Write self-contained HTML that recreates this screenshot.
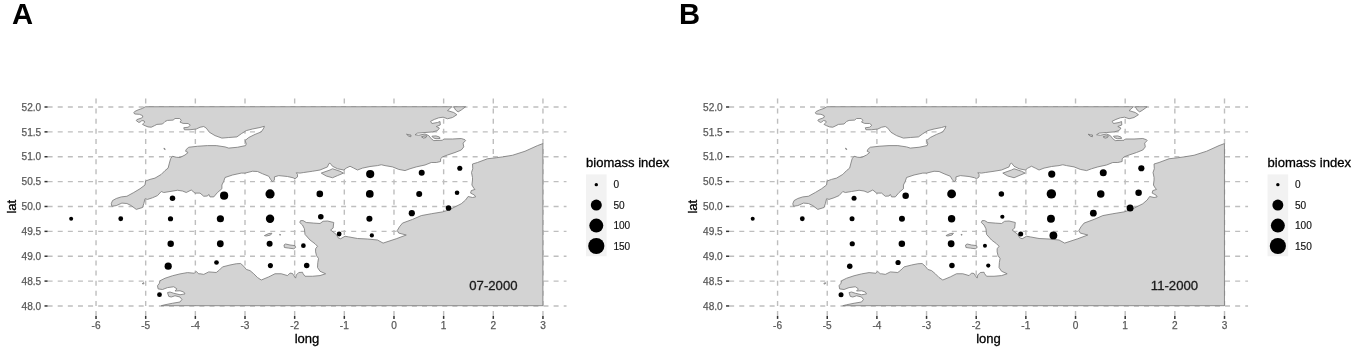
<!DOCTYPE html>
<html lang="en">
<head>
<meta charset="utf-8">
<title>Biomass index maps</title>
<style>
html,body{margin:0;padding:0;background:#fff;}
body{width:1358px;height:353px;overflow:hidden;}
svg{display:block;font-family:"Liberation Sans",Arial,Helvetica,sans-serif;will-change:transform;}
</style>
</head>
<body>
<svg width="1358" height="353" viewBox="0 0 1358 353">
<rect width="1358" height="353" fill="#fff"/>
<text x="11.9" y="24.15" font-size="29.2" font-weight="bold" fill="#000">A</text>
<text x="679.1" y="24.15" font-size="29.2" font-weight="bold" fill="#000">B</text>
<g transform="translate(0,0)">
<g stroke="#bebebe" stroke-width="1.4" stroke-dasharray="5 5.12" fill="none">
<line x1="47.6" y1="107.00" x2="566.5" y2="107.00"/>
<line x1="47.6" y1="131.87" x2="566.5" y2="131.87"/>
<line x1="47.6" y1="156.74" x2="566.5" y2="156.74"/>
<line x1="47.6" y1="181.61" x2="566.5" y2="181.61"/>
<line x1="47.6" y1="206.48" x2="566.5" y2="206.48"/>
<line x1="47.6" y1="231.35" x2="566.5" y2="231.35"/>
<line x1="47.6" y1="256.22" x2="566.5" y2="256.22"/>
<line x1="47.6" y1="281.09" x2="566.5" y2="281.09"/>
<line x1="47.6" y1="305.96" x2="566.5" y2="305.96"/>
<line x1="96.03" y1="316.0" x2="96.03" y2="97.0"/>
<line x1="145.69" y1="316.0" x2="145.69" y2="97.0"/>
<line x1="195.35" y1="316.0" x2="195.35" y2="97.0"/>
<line x1="245.00" y1="316.0" x2="245.00" y2="97.0"/>
<line x1="294.66" y1="316.0" x2="294.66" y2="97.0"/>
<line x1="344.32" y1="316.0" x2="344.32" y2="97.0"/>
<line x1="393.98" y1="316.0" x2="393.98" y2="97.0"/>
<line x1="443.64" y1="316.0" x2="443.64" y2="97.0"/>
<line x1="493.29" y1="316.0" x2="493.29" y2="97.0"/>
<line x1="542.95" y1="316.0" x2="542.95" y2="97.0"/>
</g>
<g fill="#d3d3d3" stroke="#7c7c7c" stroke-width="0.85" stroke-linejoin="round">
<polygon points="145.3,106.75 142.5,108.4 138.1,109.9 134.7,111.5 133.8,112.75 134.7,114 139.4,114.3 142.5,115.6 142.8,117.1 141.25,118.1 136.9,119.6 136.25,120.6 138.75,122.4 140,122.1 141.9,120.6 144.1,120.9 144.7,122.1 143.4,123.4 142.5,124.4 145,125.7 148,126.9 151.25,127.2 154.4,125.7 156.9,124.4 162.5,124 165,121.5 167.5,120.4 173.1,120.1 175,118.5 179.7,118.5 181.25,120.25 180,122.1 183.1,123.4 188.1,123.5 190.3,125.25 188.1,127.25 183.75,127.75 184.4,129.75 190,129.75 196.25,129 200,127.25 203.75,126.5 206.25,128.1 209.4,132.25 215,135.6 221.9,138.1 228.75,137.5 236.9,136.9 241.25,133.75 246.25,130.6 252.5,129 260,127.5 264.4,126.25 263.75,128.1 261.25,131.9 255,134.4 248.75,137.5 245,140.6 246.25,143.75 245.6,145.6 237.5,147.25 228.75,148.1 225,146.9 216.25,145.6 207.5,145.6 197.5,146.25 188.75,147.25 186.25,149.4 185.6,151.25 188.1,152.5 185,155 180,157.5 176.25,157.25 172.5,156.25 170.6,158.75 169.4,163.1 168.1,168.1 165,170.6 161.25,174.4 155,178.1 150,179.4 145.6,181 145,185 140,188.75 133.75,192.5 126.9,196.25 121.25,196.9 116.25,198.5 112.5,200.6 111.25,203.75 111.9,206.25 116.25,205.6 121.9,203.1 126.9,203.5 131.25,205.6 136.25,209.4 142.5,207.5 143.75,203.75 145,198.75 147.5,199.4 152.5,197.75 157.5,195.6 161.25,191.5 163.75,192.5 170,191.5 177.5,190.25 182.5,191 186.25,192.5 191.25,190 195,193.1 200,193.1 203.75,196.25 207.5,196 208.75,194.4 210,196.9 213.75,196.9 217.5,192.5 221.9,188.75 221.9,185 223.75,181.25 225,177.5 232.5,175 241.25,173.1 245,173.1 252.5,171.25 257.5,171.5 262.5,173.75 268.75,176.25 270.6,179.4 272.5,181.9 274.4,180 274.4,176.9 278.75,175.6 287.5,176.5 293.1,177.75 295,178.75 297.5,176.9 297.5,174.4 296.25,172.75 300,173.1 303.75,172.5 312.5,171.25 320,170 327.5,166.9 328.75,163.75 330,163.1 332.5,166.25 337.5,168.75 343.75,170 346.25,168.1 350,166.25 353.75,168.1 357.5,170 362.5,168.1 370,166.5 377.5,165.6 381.25,164.75 385,165.6 392.5,166.9 398.75,169.4 405,170.6 410,168.75 416.25,166.9 425,165 431.25,162.5 436.25,162.5 440.6,161.5 440.6,158.75 442.5,156.9 447.5,155 455,152.5 461.25,150 463.75,146.9 463.1,143.1 465.6,140.6 465,139.75 461.25,138.5 452.5,139 443.75,139 442.5,140.25 433.75,140.6 431.25,138.75 428.75,135.6 425,134 418.75,135.25 415,134.75 417.5,133.1 425,132.5 432.5,131.9 437.5,130.6 439.4,128.1 436.25,126.5 440.25,125 440,121.5 437.5,122.5 431.9,123.5 430.6,121.25 434.4,119.4 438.75,117.8 443.1,117.2 447.5,118.75 452.5,117.5 456.9,114.7 453.75,112.5 447.5,110.6 451.9,106.75"/>
<polygon points="453.75,106.75 455.6,110 458.1,111.9 461.25,110 465.6,106.75"/>
<polygon points="542.9,143.6 537.5,145.6 525,151.25 512.5,155.25 502.5,156.9 496.25,157.75 487.5,158.75 477.5,162.5 472.5,164 472.75,168.75 471.5,172.5 472.5,177.5 472.5,180 471.9,185 473.75,188.1 475,189.4 471.25,190.6 470.6,193.1 474.4,195 475.6,196.9 472.5,197.5 468.1,196.5 465.6,200 461.25,203.75 455,206.9 448.75,210 442.5,211.9 431.25,213.75 421.25,215.6 412.5,219.4 402.5,223.1 399.4,226.9 397.25,230.6 398.75,233.1 406.25,235 396.25,238.75 383.1,243.1 377.5,240 367.5,239 357.5,238.5 348.75,236.9 345,236.25 340.6,238.75 338.1,237.75 336.25,234.4 330.6,230 333.1,228.1 333.75,222.5 327.5,221 323.1,221.25 320,223.5 313.75,223.1 306.25,222.5 303.1,220.6 300.6,220.6 299.75,222.5 302.5,225 304.4,228.75 305,234.4 310,240 315,243.75 317.5,246.25 315.6,248.75 315.6,251.9 316.5,255.6 318.5,258.5 317.8,262.5 317.5,267.5 320,271.25 325.6,273.75 320,275.6 312.5,276.25 305,276.25 303.1,273.75 302.5,272.25 298.75,272.5 296.25,275 295.6,278.1 293.75,275.6 292.5,273.5 290,273.1 287.5,275.6 281.25,273.75 275,273.75 268.75,276.9 261.25,280 257.5,277.5 253.75,273.75 250,270.6 246.25,269.4 243.75,266.25 240.6,263.5 236.25,263.75 230,265 222.5,266.9 219.4,270 216.25,272.5 208.75,271.9 203.75,274.4 200,273.75 198.75,273.9 196.25,271.4 194.4,273.25 187.5,272.6 180,273.9 172.5,275.75 165,278.25 160,280.75 159.4,283.25 157.5,285.75 158.1,288.9 162.5,289.5 167.5,287.6 173.75,286.75 176.9,288.9 175,291 180,290.75 183.75,292 185,293.9 180,294.75 173.75,293.25 170,292 167.5,292.6 168.75,296.4 171.25,297 175,295.75 180,297 181.9,299.5 180,302 172.5,303.25 165,304.75 161.25,305.7 542.9,305.7"/>
<polygon points="321.25,173.1 330,170 332.5,168.75 340,171.25 343.5,173.1 337.5,175.6 332.5,177.75 326.25,176"/>
<polygon points="431.9,136.2 436,135.9 439.5,137 440,138.5 436,138.7 433.5,138"/>
<polygon points="421.5,136.8 424,136 426.8,135.8 426,137.5 423.5,138.2"/>
<polygon points="406.5,134.2 409,134.8 411,135 410.8,136.8 408.5,136"/>
<polygon points="163.9,148.2 164.9,148.6 165.2,149.6 164.3,149.3"/>
<polygon points="264.4,235.6 268.75,233.5 271.9,233.25 270.6,235 266.25,236"/>
<polygon points="279.6,234.4 280.5,234.5 280.4,235.2 279.7,235.1"/>
<polygon points="284,245 285.6,244 290,245 295,245.6 295.6,247.5 293.75,248.75 288.75,248.1 284.4,247.5"/>
<polygon points="142.2,283.6 143.8,282.6 144,283.6 143,284"/>
</g>
<g fill="#000">
<circle cx="71.15" cy="218.75" r="2.0"/>
<circle cx="120.75" cy="218.75" r="2.4"/>
<circle cx="170.5" cy="218.75" r="2.6"/>
<circle cx="220.4" cy="218.75" r="3.6"/>
<circle cx="270.05" cy="218.75" r="4.2"/>
<circle cx="320.8" cy="216.75" r="2.8"/>
<circle cx="369.4" cy="218.75" r="3.05"/>
<circle cx="172.5" cy="198.25" r="2.75"/>
<circle cx="224.1" cy="195.7" r="4.1"/>
<circle cx="270.05" cy="193.9" r="4.6"/>
<circle cx="319.8" cy="193.9" r="3.3"/>
<circle cx="369.8" cy="193.9" r="3.85"/>
<circle cx="419.2" cy="193.9" r="3.0"/>
<circle cx="457.05" cy="192.8" r="2.3"/>
<circle cx="370.2" cy="174.05" r="4.1"/>
<circle cx="421.7" cy="172.7" r="3.0"/>
<circle cx="459.8" cy="168.25" r="2.55"/>
<circle cx="448.55" cy="207.95" r="2.8"/>
<circle cx="411.8" cy="213.2" r="3.1"/>
<circle cx="339.15" cy="234" r="2.4"/>
<circle cx="371.85" cy="235.4" r="2.1"/>
<circle cx="170.7" cy="243.75" r="3.2"/>
<circle cx="220.3" cy="243.75" r="3.4"/>
<circle cx="269.6" cy="243.75" r="3.0"/>
<circle cx="303.4" cy="245.7" r="2.35"/>
<circle cx="168.2" cy="266.2" r="3.6"/>
<circle cx="216.5" cy="262.5" r="2.35"/>
<circle cx="270.4" cy="265.6" r="2.55"/>
<circle cx="306.7" cy="265.55" r="2.75"/>
<circle cx="159.5" cy="294.7" r="2.4"/>
</g>
<text x="469.3" y="290.3" font-size="13.15" fill="#1a1a1a" stroke="#1a1a1a" stroke-width="0.3">07-2000</text>
<g stroke="#333" stroke-width="1.5">
<line x1="44.5" y1="107.00" x2="47.6" y2="107.00"/>
<line x1="44.5" y1="131.87" x2="47.6" y2="131.87"/>
<line x1="44.5" y1="156.74" x2="47.6" y2="156.74"/>
<line x1="44.5" y1="181.61" x2="47.6" y2="181.61"/>
<line x1="44.5" y1="206.48" x2="47.6" y2="206.48"/>
<line x1="44.5" y1="231.35" x2="47.6" y2="231.35"/>
<line x1="44.5" y1="256.22" x2="47.6" y2="256.22"/>
<line x1="44.5" y1="281.09" x2="47.6" y2="281.09"/>
<line x1="44.5" y1="305.96" x2="47.6" y2="305.96"/>
<line x1="96.03" y1="316.0" x2="96.03" y2="318.9"/>
<line x1="145.69" y1="316.0" x2="145.69" y2="318.9"/>
<line x1="195.35" y1="316.0" x2="195.35" y2="318.9"/>
<line x1="245.00" y1="316.0" x2="245.00" y2="318.9"/>
<line x1="294.66" y1="316.0" x2="294.66" y2="318.9"/>
<line x1="344.32" y1="316.0" x2="344.32" y2="318.9"/>
<line x1="393.98" y1="316.0" x2="393.98" y2="318.9"/>
<line x1="443.64" y1="316.0" x2="443.64" y2="318.9"/>
<line x1="493.29" y1="316.0" x2="493.29" y2="318.9"/>
<line x1="542.95" y1="316.0" x2="542.95" y2="318.9"/>
</g>
<g font-size="10.1" fill="#595959" stroke="#595959" stroke-width="0.25">
<text x="41.2" y="110.70" text-anchor="end">52.0</text>
<text x="41.2" y="135.57" text-anchor="end">51.5</text>
<text x="41.2" y="160.44" text-anchor="end">51.0</text>
<text x="41.2" y="185.31" text-anchor="end">50.5</text>
<text x="41.2" y="210.18" text-anchor="end">50.0</text>
<text x="41.2" y="235.05" text-anchor="end">49.5</text>
<text x="41.2" y="259.92" text-anchor="end">49.0</text>
<text x="41.2" y="284.79" text-anchor="end">48.5</text>
<text x="41.2" y="309.66" text-anchor="end">48.0</text>
<text x="96.03" y="329.1" text-anchor="middle">-6</text>
<text x="145.69" y="329.1" text-anchor="middle">-5</text>
<text x="195.35" y="329.1" text-anchor="middle">-4</text>
<text x="245.00" y="329.1" text-anchor="middle">-3</text>
<text x="294.66" y="329.1" text-anchor="middle">-2</text>
<text x="344.32" y="329.1" text-anchor="middle">-1</text>
<text x="393.98" y="329.1" text-anchor="middle">0</text>
<text x="443.64" y="329.1" text-anchor="middle">1</text>
<text x="493.29" y="329.1" text-anchor="middle">2</text>
<text x="542.95" y="329.1" text-anchor="middle">3</text>
</g>
<text x="307" y="343.2" font-size="13.05" text-anchor="middle" fill="#000" stroke="#000" stroke-width="0.3">long</text>
<text transform="translate(15.8,206.7) rotate(-90)" font-size="13.05" text-anchor="middle" fill="#000" stroke="#000" stroke-width="0.3">lat</text>
<text x="586" y="167" font-size="13.05" fill="#000" stroke="#000" stroke-width="0.3">biomass index</text>
<rect x="586" y="174.4" width="20.6" height="81.85" fill="#f2f2f2"/>
<circle cx="596.3" cy="184.65" r="1.7" fill="#000"/>
<text x="613.4" y="188.25" font-size="10.1" fill="#111" stroke="#111" stroke-width="0.15">0</text>
<circle cx="596.3" cy="205.1" r="5.5" fill="#000"/>
<text x="613.4" y="208.70" font-size="10.1" fill="#111" stroke="#111" stroke-width="0.15">50</text>
<circle cx="596.3" cy="225.6" r="7.0" fill="#000"/>
<text x="613.4" y="229.20" font-size="10.1" fill="#111" stroke="#111" stroke-width="0.15">100</text>
<circle cx="596.3" cy="246.0" r="8.1" fill="#000"/>
<text x="613.4" y="249.60" font-size="10.1" fill="#111" stroke="#111" stroke-width="0.15">150</text>
</g>
<g transform="translate(681.55,0)">
<g stroke="#bebebe" stroke-width="1.4" stroke-dasharray="5 5.12" fill="none">
<line x1="47.6" y1="107.00" x2="566.5" y2="107.00"/>
<line x1="47.6" y1="131.87" x2="566.5" y2="131.87"/>
<line x1="47.6" y1="156.74" x2="566.5" y2="156.74"/>
<line x1="47.6" y1="181.61" x2="566.5" y2="181.61"/>
<line x1="47.6" y1="206.48" x2="566.5" y2="206.48"/>
<line x1="47.6" y1="231.35" x2="566.5" y2="231.35"/>
<line x1="47.6" y1="256.22" x2="566.5" y2="256.22"/>
<line x1="47.6" y1="281.09" x2="566.5" y2="281.09"/>
<line x1="47.6" y1="305.96" x2="566.5" y2="305.96"/>
<line x1="96.03" y1="316.0" x2="96.03" y2="97.0"/>
<line x1="145.69" y1="316.0" x2="145.69" y2="97.0"/>
<line x1="195.35" y1="316.0" x2="195.35" y2="97.0"/>
<line x1="245.00" y1="316.0" x2="245.00" y2="97.0"/>
<line x1="294.66" y1="316.0" x2="294.66" y2="97.0"/>
<line x1="344.32" y1="316.0" x2="344.32" y2="97.0"/>
<line x1="393.98" y1="316.0" x2="393.98" y2="97.0"/>
<line x1="443.64" y1="316.0" x2="443.64" y2="97.0"/>
<line x1="493.29" y1="316.0" x2="493.29" y2="97.0"/>
<line x1="542.95" y1="316.0" x2="542.95" y2="97.0"/>
</g>
<g fill="#d3d3d3" stroke="#7c7c7c" stroke-width="0.85" stroke-linejoin="round">
<polygon points="145.3,106.75 142.5,108.4 138.1,109.9 134.7,111.5 133.8,112.75 134.7,114 139.4,114.3 142.5,115.6 142.8,117.1 141.25,118.1 136.9,119.6 136.25,120.6 138.75,122.4 140,122.1 141.9,120.6 144.1,120.9 144.7,122.1 143.4,123.4 142.5,124.4 145,125.7 148,126.9 151.25,127.2 154.4,125.7 156.9,124.4 162.5,124 165,121.5 167.5,120.4 173.1,120.1 175,118.5 179.7,118.5 181.25,120.25 180,122.1 183.1,123.4 188.1,123.5 190.3,125.25 188.1,127.25 183.75,127.75 184.4,129.75 190,129.75 196.25,129 200,127.25 203.75,126.5 206.25,128.1 209.4,132.25 215,135.6 221.9,138.1 228.75,137.5 236.9,136.9 241.25,133.75 246.25,130.6 252.5,129 260,127.5 264.4,126.25 263.75,128.1 261.25,131.9 255,134.4 248.75,137.5 245,140.6 246.25,143.75 245.6,145.6 237.5,147.25 228.75,148.1 225,146.9 216.25,145.6 207.5,145.6 197.5,146.25 188.75,147.25 186.25,149.4 185.6,151.25 188.1,152.5 185,155 180,157.5 176.25,157.25 172.5,156.25 170.6,158.75 169.4,163.1 168.1,168.1 165,170.6 161.25,174.4 155,178.1 150,179.4 145.6,181 145,185 140,188.75 133.75,192.5 126.9,196.25 121.25,196.9 116.25,198.5 112.5,200.6 111.25,203.75 111.9,206.25 116.25,205.6 121.9,203.1 126.9,203.5 131.25,205.6 136.25,209.4 142.5,207.5 143.75,203.75 145,198.75 147.5,199.4 152.5,197.75 157.5,195.6 161.25,191.5 163.75,192.5 170,191.5 177.5,190.25 182.5,191 186.25,192.5 191.25,190 195,193.1 200,193.1 203.75,196.25 207.5,196 208.75,194.4 210,196.9 213.75,196.9 217.5,192.5 221.9,188.75 221.9,185 223.75,181.25 225,177.5 232.5,175 241.25,173.1 245,173.1 252.5,171.25 257.5,171.5 262.5,173.75 268.75,176.25 270.6,179.4 272.5,181.9 274.4,180 274.4,176.9 278.75,175.6 287.5,176.5 293.1,177.75 295,178.75 297.5,176.9 297.5,174.4 296.25,172.75 300,173.1 303.75,172.5 312.5,171.25 320,170 327.5,166.9 328.75,163.75 330,163.1 332.5,166.25 337.5,168.75 343.75,170 346.25,168.1 350,166.25 353.75,168.1 357.5,170 362.5,168.1 370,166.5 377.5,165.6 381.25,164.75 385,165.6 392.5,166.9 398.75,169.4 405,170.6 410,168.75 416.25,166.9 425,165 431.25,162.5 436.25,162.5 440.6,161.5 440.6,158.75 442.5,156.9 447.5,155 455,152.5 461.25,150 463.75,146.9 463.1,143.1 465.6,140.6 465,139.75 461.25,138.5 452.5,139 443.75,139 442.5,140.25 433.75,140.6 431.25,138.75 428.75,135.6 425,134 418.75,135.25 415,134.75 417.5,133.1 425,132.5 432.5,131.9 437.5,130.6 439.4,128.1 436.25,126.5 440.25,125 440,121.5 437.5,122.5 431.9,123.5 430.6,121.25 434.4,119.4 438.75,117.8 443.1,117.2 447.5,118.75 452.5,117.5 456.9,114.7 453.75,112.5 447.5,110.6 451.9,106.75"/>
<polygon points="453.75,106.75 455.6,110 458.1,111.9 461.25,110 465.6,106.75"/>
<polygon points="542.9,143.6 537.5,145.6 525,151.25 512.5,155.25 502.5,156.9 496.25,157.75 487.5,158.75 477.5,162.5 472.5,164 472.75,168.75 471.5,172.5 472.5,177.5 472.5,180 471.9,185 473.75,188.1 475,189.4 471.25,190.6 470.6,193.1 474.4,195 475.6,196.9 472.5,197.5 468.1,196.5 465.6,200 461.25,203.75 455,206.9 448.75,210 442.5,211.9 431.25,213.75 421.25,215.6 412.5,219.4 402.5,223.1 399.4,226.9 397.25,230.6 398.75,233.1 406.25,235 396.25,238.75 383.1,243.1 377.5,240 367.5,239 357.5,238.5 348.75,236.9 345,236.25 340.6,238.75 338.1,237.75 336.25,234.4 330.6,230 333.1,228.1 333.75,222.5 327.5,221 323.1,221.25 320,223.5 313.75,223.1 306.25,222.5 303.1,220.6 300.6,220.6 299.75,222.5 302.5,225 304.4,228.75 305,234.4 310,240 315,243.75 317.5,246.25 315.6,248.75 315.6,251.9 316.5,255.6 318.5,258.5 317.8,262.5 317.5,267.5 320,271.25 325.6,273.75 320,275.6 312.5,276.25 305,276.25 303.1,273.75 302.5,272.25 298.75,272.5 296.25,275 295.6,278.1 293.75,275.6 292.5,273.5 290,273.1 287.5,275.6 281.25,273.75 275,273.75 268.75,276.9 261.25,280 257.5,277.5 253.75,273.75 250,270.6 246.25,269.4 243.75,266.25 240.6,263.5 236.25,263.75 230,265 222.5,266.9 219.4,270 216.25,272.5 208.75,271.9 203.75,274.4 200,273.75 198.75,273.9 196.25,271.4 194.4,273.25 187.5,272.6 180,273.9 172.5,275.75 165,278.25 160,280.75 159.4,283.25 157.5,285.75 158.1,288.9 162.5,289.5 167.5,287.6 173.75,286.75 176.9,288.9 175,291 180,290.75 183.75,292 185,293.9 180,294.75 173.75,293.25 170,292 167.5,292.6 168.75,296.4 171.25,297 175,295.75 180,297 181.9,299.5 180,302 172.5,303.25 165,304.75 161.25,305.7 542.9,305.7"/>
<polygon points="321.25,173.1 330,170 332.5,168.75 340,171.25 343.5,173.1 337.5,175.6 332.5,177.75 326.25,176"/>
<polygon points="431.9,136.2 436,135.9 439.5,137 440,138.5 436,138.7 433.5,138"/>
<polygon points="421.5,136.8 424,136 426.8,135.8 426,137.5 423.5,138.2"/>
<polygon points="406.5,134.2 409,134.8 411,135 410.8,136.8 408.5,136"/>
<polygon points="163.9,148.2 164.9,148.6 165.2,149.6 164.3,149.3"/>
<polygon points="264.4,235.6 268.75,233.5 271.9,233.25 270.6,235 266.25,236"/>
<polygon points="279.6,234.4 280.5,234.5 280.4,235.2 279.7,235.1"/>
<polygon points="284,245 285.6,244 290,245 295,245.6 295.6,247.5 293.75,248.75 288.75,248.1 284.4,247.5"/>
<polygon points="142.2,283.6 143.8,282.6 144,283.6 143,284"/>
</g>
<g fill="#000">
<circle cx="71.15" cy="218.75" r="2.0"/>
<circle cx="120.75" cy="218.75" r="2.4"/>
<circle cx="170.5" cy="218.75" r="2.5"/>
<circle cx="220.4" cy="218.75" r="3.0"/>
<circle cx="270.05" cy="218.75" r="3.7"/>
<circle cx="320.8" cy="216.75" r="2.1"/>
<circle cx="369.4" cy="218.75" r="3.95"/>
<circle cx="172.5" cy="198.25" r="2.5"/>
<circle cx="224.1" cy="195.7" r="3.25"/>
<circle cx="270.05" cy="193.9" r="4.4"/>
<circle cx="319.8" cy="193.9" r="2.75"/>
<circle cx="369.8" cy="193.9" r="4.7"/>
<circle cx="419.2" cy="193.9" r="3.75"/>
<circle cx="457.05" cy="192.8" r="3.25"/>
<circle cx="370.2" cy="174.05" r="3.6"/>
<circle cx="421.7" cy="172.7" r="3.5"/>
<circle cx="459.8" cy="168.25" r="3.1"/>
<circle cx="448.55" cy="207.95" r="3.5"/>
<circle cx="411.8" cy="213.2" r="3.4"/>
<circle cx="339.15" cy="234" r="2.5"/>
<circle cx="371.85" cy="235.4" r="3.9"/>
<circle cx="170.7" cy="243.75" r="2.6"/>
<circle cx="220.3" cy="243.75" r="3.25"/>
<circle cx="269.6" cy="243.75" r="3.4"/>
<circle cx="303.4" cy="245.7" r="2.0"/>
<circle cx="168.2" cy="266.2" r="2.75"/>
<circle cx="216.5" cy="262.5" r="2.6"/>
<circle cx="270.4" cy="265.6" r="2.75"/>
<circle cx="306.7" cy="265.55" r="2.1"/>
<circle cx="159.5" cy="294.7" r="2.5"/>
</g>
<text x="469.3" y="290.3" font-size="13.15" fill="#1a1a1a" stroke="#1a1a1a" stroke-width="0.3">11-2000</text>
<g stroke="#333" stroke-width="1.5">
<line x1="44.5" y1="107.00" x2="47.6" y2="107.00"/>
<line x1="44.5" y1="131.87" x2="47.6" y2="131.87"/>
<line x1="44.5" y1="156.74" x2="47.6" y2="156.74"/>
<line x1="44.5" y1="181.61" x2="47.6" y2="181.61"/>
<line x1="44.5" y1="206.48" x2="47.6" y2="206.48"/>
<line x1="44.5" y1="231.35" x2="47.6" y2="231.35"/>
<line x1="44.5" y1="256.22" x2="47.6" y2="256.22"/>
<line x1="44.5" y1="281.09" x2="47.6" y2="281.09"/>
<line x1="44.5" y1="305.96" x2="47.6" y2="305.96"/>
<line x1="96.03" y1="316.0" x2="96.03" y2="318.9"/>
<line x1="145.69" y1="316.0" x2="145.69" y2="318.9"/>
<line x1="195.35" y1="316.0" x2="195.35" y2="318.9"/>
<line x1="245.00" y1="316.0" x2="245.00" y2="318.9"/>
<line x1="294.66" y1="316.0" x2="294.66" y2="318.9"/>
<line x1="344.32" y1="316.0" x2="344.32" y2="318.9"/>
<line x1="393.98" y1="316.0" x2="393.98" y2="318.9"/>
<line x1="443.64" y1="316.0" x2="443.64" y2="318.9"/>
<line x1="493.29" y1="316.0" x2="493.29" y2="318.9"/>
<line x1="542.95" y1="316.0" x2="542.95" y2="318.9"/>
</g>
<g font-size="10.1" fill="#595959" stroke="#595959" stroke-width="0.25">
<text x="41.2" y="110.70" text-anchor="end">52.0</text>
<text x="41.2" y="135.57" text-anchor="end">51.5</text>
<text x="41.2" y="160.44" text-anchor="end">51.0</text>
<text x="41.2" y="185.31" text-anchor="end">50.5</text>
<text x="41.2" y="210.18" text-anchor="end">50.0</text>
<text x="41.2" y="235.05" text-anchor="end">49.5</text>
<text x="41.2" y="259.92" text-anchor="end">49.0</text>
<text x="41.2" y="284.79" text-anchor="end">48.5</text>
<text x="41.2" y="309.66" text-anchor="end">48.0</text>
<text x="96.03" y="329.1" text-anchor="middle">-6</text>
<text x="145.69" y="329.1" text-anchor="middle">-5</text>
<text x="195.35" y="329.1" text-anchor="middle">-4</text>
<text x="245.00" y="329.1" text-anchor="middle">-3</text>
<text x="294.66" y="329.1" text-anchor="middle">-2</text>
<text x="344.32" y="329.1" text-anchor="middle">-1</text>
<text x="393.98" y="329.1" text-anchor="middle">0</text>
<text x="443.64" y="329.1" text-anchor="middle">1</text>
<text x="493.29" y="329.1" text-anchor="middle">2</text>
<text x="542.95" y="329.1" text-anchor="middle">3</text>
</g>
<text x="307" y="343.2" font-size="13.05" text-anchor="middle" fill="#000" stroke="#000" stroke-width="0.3">long</text>
<text transform="translate(15.8,206.7) rotate(-90)" font-size="13.05" text-anchor="middle" fill="#000" stroke="#000" stroke-width="0.3">lat</text>
<text x="586" y="167" font-size="13.05" fill="#000" stroke="#000" stroke-width="0.3">biomass index</text>
<rect x="586" y="174.4" width="20.6" height="81.85" fill="#f2f2f2"/>
<circle cx="596.3" cy="184.65" r="1.7" fill="#000"/>
<text x="613.4" y="188.25" font-size="10.1" fill="#111" stroke="#111" stroke-width="0.15">0</text>
<circle cx="596.3" cy="205.1" r="5.5" fill="#000"/>
<text x="613.4" y="208.70" font-size="10.1" fill="#111" stroke="#111" stroke-width="0.15">50</text>
<circle cx="596.3" cy="225.6" r="7.0" fill="#000"/>
<text x="613.4" y="229.20" font-size="10.1" fill="#111" stroke="#111" stroke-width="0.15">100</text>
<circle cx="596.3" cy="246.0" r="8.1" fill="#000"/>
<text x="613.4" y="249.60" font-size="10.1" fill="#111" stroke="#111" stroke-width="0.15">150</text>
</g>
</svg>
</body>
</html>
